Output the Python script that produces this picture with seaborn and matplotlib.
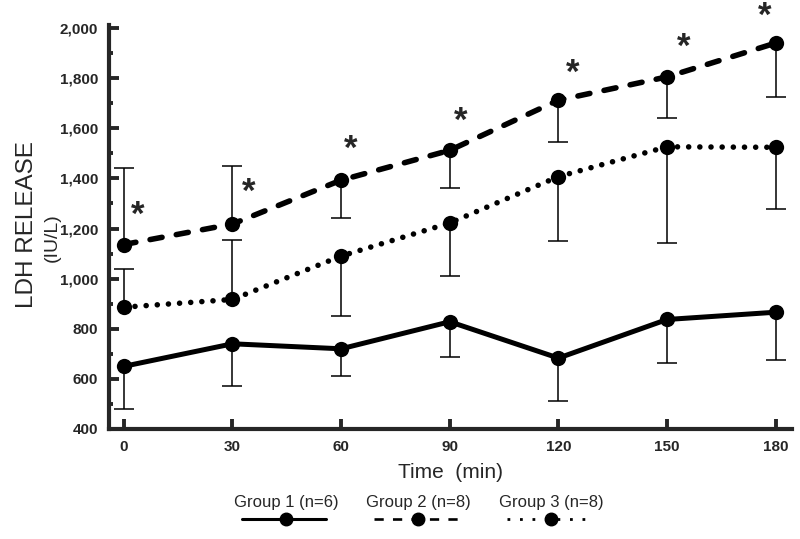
import numpy as np
import pandas as pd
import matplotlib
matplotlib.use("Agg")
import matplotlib.pyplot as plt
import seaborn as sns

# === DATOS ===
tiempo = [0, 30, 60, 90, 120, 150, 180]

grupo1 = [650, 740, 720, 828, 683, 837, 866]
grupo2 = [1136, 1218, 1393, 1512, 1712, 1805, 1940]
grupo3 = [886, 917, 1090, 1222, 1407, 1526, 1524]

# barras de error de un solo lado (positivo = hacia arriba)
err1 = [-170, -170, -110, -140, -172, -174, -191]
err2 = [305, 232, -150, -150, -166, -163, -215]
err3 = [151, 239, -240, -213, -255, -382, -248]

nombres = ["Group 1 (n=6)", "Group 2 (n=8)", "Group 3 (n=8)"]
yticks = [400, 600, 800, 1000, 1200, 1400, 1600, 1800, 2000]
xticks = tiempo

# === ESTILO ===
sns.set_style("ticks")
plt.rcParams['font.family'] = ['Liberation Sans', 'DejaVu Sans']

fig = plt.figure(figsize=(8, 5.39), dpi=100)
ax = fig.add_axes([109 / 800, 110 / 539, 683 / 800, 403.5 / 539])

estilos = [
    dict(linestyle='-', linewidth=3.6),
    dict(linestyle=(0, (2.2, 2.6)), linewidth=4.0),
    dict(linestyle=(0, (0.01, 2.0)), linewidth=4.0),
]

for medias, err, est in zip([grupo1, grupo2, grupo3], [err1, err2, err3], estilos):
    medias = np.array(medias)
    punta = medias + np.array(err)
    ax.vlines(tiempo, medias, punta, color='black', linewidth=1.1, zorder=1)
    ax.plot(tiempo, punta, linestyle='none', marker='_', markersize=14,
            markeredgewidth=1.1, color='black', zorder=1)
    df = pd.DataFrame({'Tiempo': tiempo, 'LDH': medias})
    sns.lineplot(data=df, x='Tiempo', y='LDH', ax=ax, color='black',
                 marker='o', markersize=11, markeredgewidth=0,
                 errorbar=None, zorder=3, **est)

# puntas redondeadas para guiones y puntos
for linea in ax.lines:
    linea.set_dash_capstyle('round')

# asteriscos de significancia sobre el grupo 2
desplaz = [(10, 21), (12, 23), (7, 22), (8, 21), (10, 19), (12, 21), (-8, 19)]
for t, v, (dx, dy) in zip(tiempo, grupo2, desplaz):
    ax.annotate('*', xy=(t, v), xytext=(dx, dy), textcoords='offset points',
                ha='center', va='center', fontsize=25, fontweight='bold')

# === EJES ===
ax.set_xlim(-4.1, 184.5)
ax.set_ylim(400, 2010)
ax.set_xticks(xticks)
ax.set_yticks(yticks)
ax.set_yticklabels([f"{v:,}" for v in yticks])
ax.set_yticks(np.arange(500, 2000, 200), minor=True)
ax.set_xlabel('')
ax.set_ylabel('')
for lado in ['top', 'right']:
    ax.spines[lado].set_visible(False)
for lado in ['left', 'bottom']:
    ax.spines[lado].set_linewidth(3)
ax.tick_params(axis='both', which='major', direction='in', length=7, width=2.8,
               labelsize=11, pad=8)
ax.tick_params(axis='y', which='minor', direction='in', length=3, width=2.8)
for lab in ax.get_xticklabels() + ax.get_yticklabels():
    lab.set_fontweight('bold')

fig.text(450 / 800, 1 - 472 / 539, 'Time  (min)', ha='center', va='center', fontsize=15)
fig.text(27 / 800, 1 - 225 / 539, 'LDH RELEASE', ha='center', va='center',
         rotation=90, fontsize=17.5)
fig.text(52 / 800, 1 - 238 / 539, '(IU/L)', ha='center', va='center',
         rotation=90, fontsize=14)

# === LEYENDA (texto encima de la muestra) ===
lax = fig.add_axes([0, 0, 1, 1], zorder=-1)
lax.set_xlim(0, 800)
lax.set_ylim(539, 0)
lax.axis('off')
centros = [286, 418, 551]
muestras = [
    dict(linestyle='-', linewidth=2.2),
    dict(linestyle=(0, (3.5, 3.5)), linewidth=1.9),
    dict(linestyle=(0, (1, 3.5)), linewidth=2.0),
]
for c, nombre, est in zip(centros, nombres, muestras):
    lax.text(c, 503, nombre, ha='center', va='center', fontsize=12)
    lax.plot([c - 44, c + 40], [519, 519], color='black', **est)
    lax.plot([c], [519], marker='o', markersize=9, color='black')

fig.savefig('out.png', dpi=100)
